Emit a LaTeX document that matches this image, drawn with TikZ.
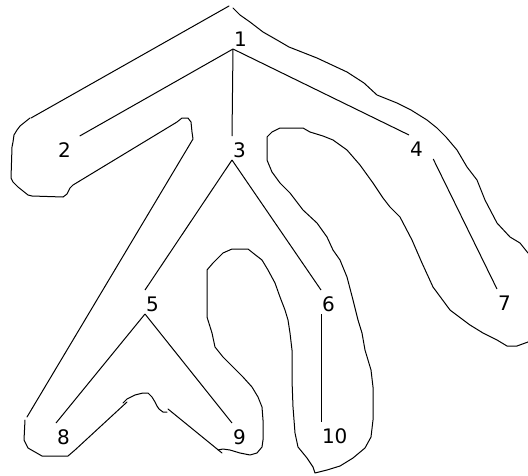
\documentclass[tikz,border=0pt]{standalone}
\usepackage{fontspec}
\setmainfont{DejaVu Sans}
\begin{document}
\begin{tikzpicture}[x=1pt, y=-1pt, line width=1pt,
    lbl/.style={font=\fontsize{20}{20}\selectfont, anchor=base west,
      inner xsep=0.5pt, inner ysep=0pt, text height=20.5pt, text depth=2.5pt},
    hand/.style={line join=round, line cap=round}]
  \useasboundingbox (0,0) rectangle (528,475);
  \clip (0,0) rectangle (528,475);
  % the tree
  \node[lbl] (n1) at (233,46) {1};
  \node[lbl] (n2) at (57,157) {2};
  \node[lbl] (n3) at (232,157) {3};
  \node[lbl] (n4) at (409,156) {4};
  \node[lbl] (n5) at (145,311) {5};
  \node[lbl] (n6) at (321,311) {6};
  \node[lbl] (n7) at (497,310) {7};
  \node[lbl] (n8) at (56,444) {8};
  \node[lbl] (n9) at (232,444) {9};
  \node[lbl] (n10) at (321,443) {10};
  \draw (n1.south west) -- ([xshift=8pt]n2.north east);
  \draw (n1.south west) -- (n3.north west);
  \draw (n1.south west) -- (n4.north west);
  \draw (n3.south west) -- (n5.north west);
  \draw (n3.south west) -- (n6.north west);
  \draw ([xshift=9.5pt]n4.south east) -- (n7.north west);
  \draw (n5.south west) -- (n8.north west);
  \draw (n5.south west) -- (n9.north west);
  \draw (n6.south west) -- (n10.north west);
  % the hand-drawn outline
  \draw[hand] (229,6) -- (31,118);
  \draw[hand] plot coordinates {(30,118) (25,122) (20,126) (17,130) (14,135) (13,142) (12,147)
    (11,178) (13,182) (18,187) (28,195) (32,196) (63,197) (67,194) (70,188) (73,185)
    (177,122) (182,118) (188,118) (191,122) (192,132) (193,139) (27,417)};
  \draw[hand] plot coordinates {(25,420) (24,440) (28,448) (42,456) (68,456) (75,450) (127,402)};
  \draw[hand] plot coordinates {(123,403) (127,399) (135,395) (143,393) (148,393) (152,397)
    (155,402) (157,406) (159,409) (163,412) (167,412)};
  \draw[hand] (168,409) -- (222,453);
  \draw[hand] plot coordinates {(218,450) (223,449) (230,450) (240,453) (250,455) (257,453)
    (262,447) (263,440) (263,420) (262,407) (258,397) (252,387) (243,377) (233,367)
    (223,357) (215,347) (212,333) (207,317) (207,270) (213,263) (223,253) (232,249)
    (248,249) (253,253) (262,260) (268,270) (275,283) (280,297) (285,310) (288,320)
    (290,333) (292,350) (292,380) (293,407) (295,433) (298,447) (307,458) (313,467)
    (315,473) (327,470) (340,466) (353,458) (365,448) (371,437) (373,420) (373,387)
    (371,370) (365,350) (362,333) (358,320) (353,300) (347,277) (340,260) (333,250)
    (327,237) (317,223) (303,210) (290,193) (280,183) (272,172) (267,160) (267,137)
    (272,132) (280,128) (303,128) (310,132) (323,136) (333,140) (347,150) (360,165)
    (373,183) (383,198) (390,207) (400,217) (412,240) (422,263) (433,287) (450,310)
    (470,325) (483,333) (497,340) (507,346) (517,346) (528,342) (540,334) (540,262)
    (528,253) (520,243) (510,237) (497,223) (485,200) (477,180) (467,167) (457,150)
    (446,137) (437,128) (427,120) (411,110) (397,103) (377,95) (364,83) (347,72)
    (317,58) (289,47) (277,40) (263,32) (250,22) (240,15) (233,8)};
\end{tikzpicture}
\end{document}
